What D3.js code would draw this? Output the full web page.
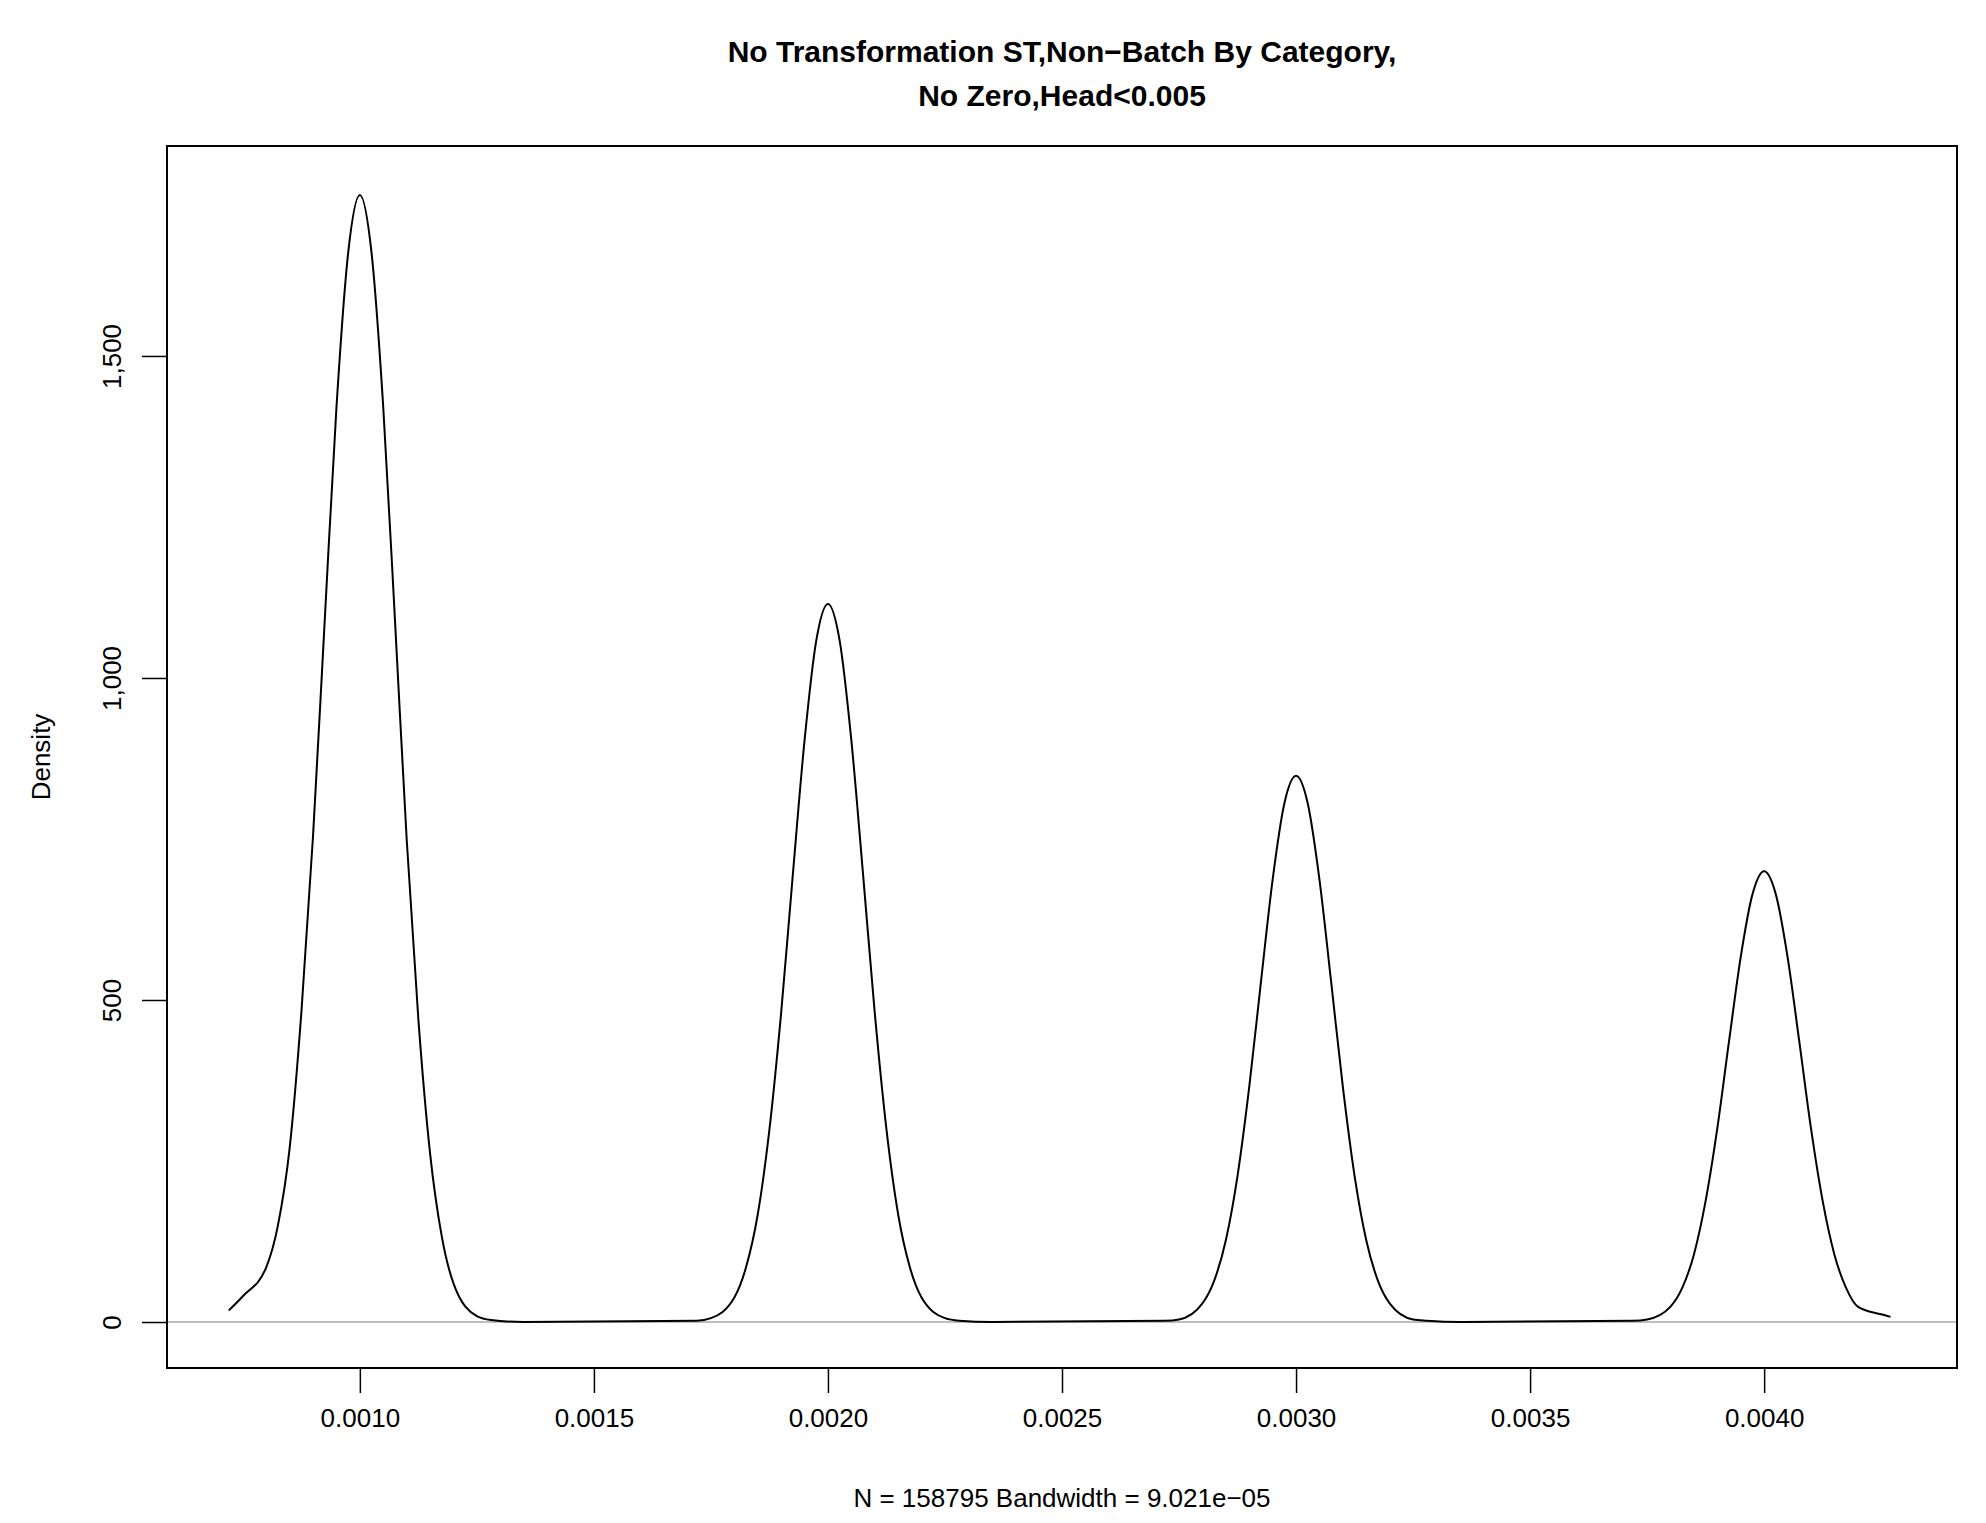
<!DOCTYPE html>
<html>
<head>
<meta charset="utf-8">
<script src="https://cdn.jsdelivr.net/npm/d3@7"></script>
<style>
  body { margin: 0; background: #fff; }
  text { font-family: "Liberation Sans", Arial, sans-serif; }
</style>
</head>
<body>
<div id="chart"></div>
<script>
// values
const titleLines = ["No Transformation ST,Non\u2212Batch By Category,", "No Zero,Head<0.005"];
const xLabel = "N = 158795   Bandwidth = 9.021e\u221205";
const yLabel = "Density";
const xTicks = [0.0010, 0.0015, 0.0020, 0.0025, 0.0030, 0.0035, 0.0040];
const yTicks = [0, 500, 1000, 1500];

const peakCenters = [0.0010, 0.0020, 0.0030, 0.0040];
const peakOffsets = [-0.00028, -0.00025, -0.0002, -0.000175, -0.00015, -0.000125, -0.0001, -0.000075, -0.00005, -0.000025, 0,
                     0.000025, 0.00005, 0.000075, 0.0001, 0.000125, 0.00015, 0.000175, 0.0002, 0.00025, 0.00028, 0.00035];
const peak1 = [18, 40, 85, 150, 270, 480, 755, 1090, 1420, 1660, 1750, 1660, 1420, 1090, 750, 470, 262, 133, 60, 9, 3, 0];
const peak2 = [2, 6, 38, 85, 167, 299, 480, 695, 903, 1058, 1115, 1058, 903, 695, 480, 299, 167, 85, 38, 6, 2, 0];
const peak3 = [2, 4, 29, 64, 127, 227, 365, 528, 687, 805, 848, 805, 687, 528, 365, 227, 127, 64, 29, 4, 2, 0];
const peak4 = [2, 4, 24, 53, 105, 188, 301, 436, 567, 664, 700, 664, 567, 436, 301, 188, 105, 53, 24, 12, 8, 8];
const peakHeights = [peak1, peak2, peak3, peak4];

const W = 1986, H = 1523;
const mLeft = 167, mRight = 1957, mTop = 146, mBottom = 1368;

const x = d3.scaleLinear().domain([0.000588, 0.004412]).range([mLeft, mRight]);
const y = d3.scaleLinear().domain([-71.4, 1826]).range([mBottom, mTop]);

const svg = d3.select("#chart").append("svg").attr("width", W).attr("height", H);

// gray zero line
svg.append("line")
  .attr("x1", mLeft).attr("x2", mRight)
  .attr("y1", y(0)).attr("y2", y(0))
  .attr("stroke", "#bebebe").attr("stroke-width", 2);

// build the curve points
let pts = [];
peakCenters.forEach((c, i) => {
  const hs = peakHeights[i];
  peakOffsets.forEach((o, j) => {
    if (i === 3 && j === peakOffsets.length - 1) return;
    if (i === 3 && j === peakOffsets.length - 2) { pts.push([0.00427, hs[j]]); return; }
    pts.push([c + o, hs[j]]);
  });
});
pts.sort((a, b) => a[0] - b[0]);

const line = d3.line()
  .x(d => x(d[0])).y(d => y(d[1]))
  .curve(d3.curveMonotoneX);

svg.append("path").datum(pts)
  .attr("d", line)
  .attr("fill", "none").attr("stroke", "#000").attr("stroke-width", 2);

// frame
svg.append("rect")
  .attr("x", mLeft).attr("y", mTop)
  .attr("width", mRight - mLeft).attr("height", mBottom - mTop)
  .attr("fill", "none").attr("stroke", "#000").attr("stroke-width", 2);

// x axis
const xAxis = svg.append("g").attr("transform", "translate(0," + mBottom + ")")
  .call(d3.axisBottom(x).tickValues(xTicks).tickFormat(d3.format(".4f")).tickSize(25).tickPadding(16));
xAxis.select(".domain").remove();
xAxis.selectAll("line").attr("stroke-width", 1.5);
xAxis.selectAll("text").attr("font-size", 26).attr("fill", "#000");

// y axis
const yAxis = svg.append("g").attr("transform", "translate(" + mLeft + ",0)")
  .call(d3.axisLeft(y).tickValues(yTicks).tickSize(25).tickPadding(0));
yAxis.select(".domain").remove();
yAxis.selectAll("line").attr("stroke-width", 1.5);
yAxis.selectAll("text")
  .attr("font-size", 26).attr("fill", "#000")
  .attr("text-anchor", "middle")
  .attr("x", 0).attr("dy", 0)
  .attr("transform", "translate(-46,0) rotate(-90)");

// labels
svg.append("text").text(xLabel)
  .attr("x", (mLeft + mRight) / 2).attr("y", 1507)
  .attr("text-anchor", "middle").attr("font-size", 26);

svg.append("text").text(yLabel)
  .attr("transform", "translate(50," + (mTop + mBottom) / 2 + ") rotate(-90)")
  .attr("text-anchor", "middle").attr("font-size", 26);

titleLines.forEach((t, i) => {
  svg.append("text").text(t)
    .attr("x", (mLeft + mRight) / 2).attr("y", 62 + i * 44)
    .attr("text-anchor", "middle").attr("font-size", 30).attr("font-weight", "bold");
});
</script>
</body>
</html>
